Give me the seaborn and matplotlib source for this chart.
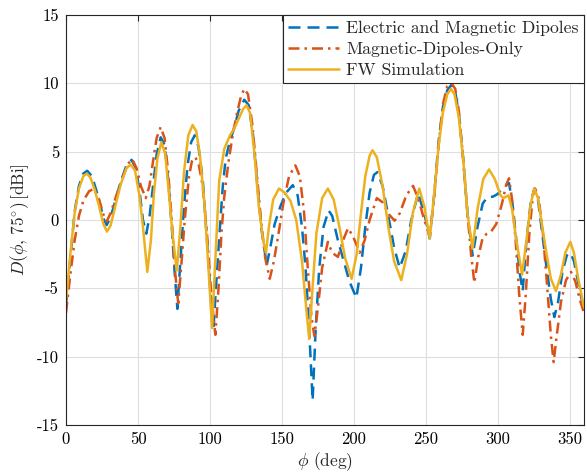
import matplotlib
matplotlib.use("Agg")
import matplotlib.pyplot as plt
import seaborn as sns
import pandas as pd

# ---- data (phi in deg, D in dBi) ----
fw_phi = [0, 3, 6, 9, 12, 14.5, 17, 20, 23, 26, 28.5, 31, 34, 38, 42, 45, 48, 51, 53.5, 56.5,
          59, 61, 63.5, 66.3, 69, 71.5, 74, 77, 79.5, 82, 85, 88, 90.5, 93, 96, 99, 101.5, 103.5,
          106.5, 110, 114, 117, 120, 123, 125.5, 128, 131, 134, 137, 139, 141, 144, 148, 152, 156,
          160, 164, 167, 169, 171, 174, 178, 182, 186, 190, 194, 198.5, 202, 205, 208, 211, 213,
          216, 220, 224, 228, 233, 237, 241, 245.5, 249, 252.8, 256, 259, 262, 265, 267.5, 270,
          273, 276, 279, 282.5, 286, 290, 294, 298, 302, 304, 307.5, 310, 313, 317, 320, 323,
          325.5, 328, 331, 334, 337, 340.5, 344, 347, 350.5, 353, 356, 360]
fw_db = [-6.0, -2.5, 0.5, 2.3, 3.2, 3.4, 3.1, 2.2, 1.0, -0.3, -0.85, -0.4, 0.9, 2.6, 3.8, 4.05, 3.6,
         1.8, -0.5, -3.8, -1.5, 1.8, 4.5, 5.7, 4.8, 2.0, -1.0, -3.7, -0.5, 3.5, 6.2, 6.95, 6.5, 4.8,
         1.5, -3.5, -7.9, -3.5, 2.9, 5.2, 6.2, 6.7, 7.4, 8.1, 8.4, 7.8, 4.8, 1.0, -1.5, -2.4, -0.5,
         1.5, 2.3, 2.0, 1.4, 0.0, -3.0, -6.5, -8.7, -5.5, -1.0, 1.6, 2.3, 1.5, -0.5, -2.8, -4.3,
         -2.5, 0.5, 3.2, 4.7, 5.1, 4.6, 2.5, -0.5, -3.0, -4.4, -2.5, 0.5, 2.3, 1.0, -1.35, 2.0,
         5.5, 7.9, 9.2, 9.6, 9.2, 7.5, 4.5, 0.5, -2.1, 0.8, 3.0, 3.7, 3.0, 1.8, 1.6, 1.8, 0.8,
         -1.5, -4.0, -1.5, 1.2, 2.3, 1.6, -0.5, -2.5, -4.3, -5.2, -4.0, -2.4, -1.6, -2.4, -4.3, -6.4]

em_phi = [0, 3, 6, 9, 12, 14.8, 18, 21, 24, 26.5, 28.3, 31, 34, 38, 42, 45.6, 48.5, 51, 53.5, 55.8,
          58, 60.5, 63, 65.8, 68.5, 71, 73.5, 75.5, 77.4, 79.5, 82, 84.5, 87, 89.5, 92, 95, 98,
          100.5, 102.4, 104.5, 107, 109, 111, 113.5, 117, 120, 123.9, 127, 130, 133, 136, 139.5,
          142, 145, 149, 153, 157.6, 161, 164, 166.5, 169, 171.4, 173.5, 176, 179, 182.5, 185, 189,
          193, 197, 201.8, 205, 208, 211, 214, 216.4, 220, 224, 228, 231.9, 236, 240, 244.7, 249,
          252.8, 256, 259, 262, 265, 267.9, 270.5, 273, 276, 279, 282.6, 286, 289.6, 293, 296.5,
          300, 304, 307.9, 310.5, 313, 315.5, 317.4, 320, 323, 325.5, 328, 331, 334, 337, 339.4,
          342, 345, 348, 350.5, 353, 356, 360]
em_db = [-6.3, -2.8, 0.6, 2.5, 3.4, 3.6, 3.2, 2.2, 1.0, 0.0, -0.37, 0.2, 1.3, 2.8, 4.0, 4.4, 3.8,
         2.2, 0.0, -1.0, 0.2, 2.5, 4.8, 6.05, 5.5, 3.0, -0.5, -3.8, -6.5, -3.0, 1.0, 4.0, 5.7, 6.2,
         5.4, 3.0, -1.5, -5.5, -8.05, -4.5, -0.5, 2.5, 4.5, 5.6, 6.8, 8.0, 8.8, 8.4, 6.2, 2.5, -0.8,
         -3.3, -2.0, -0.3, 1.0, 2.0, 2.55, 1.8, -0.5, -3.5, -8.0, -13.2, -8.0, -3.5, -0.5, 0.7, 0.3,
         -1.5, -3.0, -4.5, -5.7, -3.5, -0.5, 2.0, 3.3, 3.5, 2.5, 0.3, -2.0, -3.5, -2.3, 0.0, 1.95,
         0.5, -1.35, 2.0, 5.8, 8.3, 9.5, 9.9, 9.4, 7.8, 4.5, 0.5, -2.6, -0.5, 1.2, 1.7, 1.7, 1.9,
         2.4, 2.7, 1.0, -1.5, -4.0, -5.2, -1.5, 1.3, 2.3, 1.5, -1.0, -3.5, -5.8, -7.1, -6.0, -3.8,
         -2.6, -2.4, -3.0, -4.6, -6.6]

md_phi = [0, 3, 6, 9, 12, 16, 19.5, 23, 26, 28.3, 31, 35, 39, 43, 46, 49, 52, 55.4, 58, 60.5, 63,
          65.8, 68.5, 71, 73.5, 76, 78, 80, 82.5, 85.5, 87.5, 89.7, 92, 95, 98, 101, 103.8, 106,
          108, 110, 113, 116, 119, 121.5, 123.9, 126.5, 129.5, 132.5, 135.5, 138.5, 141.6, 144.5,
          148, 151, 155, 159.4, 162.5, 165.5, 168, 170.5, 172.6, 175, 178, 182, 185, 189, 192.5,
          196, 199.5, 204.1, 207.5, 211, 216, 220, 224.5, 228.4, 232, 236.5, 241.2, 245, 249,
          252.8, 256, 259, 262, 265, 267.9, 270.5, 273, 276, 279, 281.5, 283.8, 286.5, 289.6,
          292.5, 295.4, 299, 303, 306, 307.9, 310, 312.5, 315, 317.4, 319.5, 322, 324.5, 326,
          328.5, 331.5, 334.5, 337, 338.9, 341, 344, 347.5, 351, 354, 357, 360]
md_db = [-6.8, -4.0, -1.5, 0.3, 1.4, 2.1, 2.3, 1.5, 0.4, -0.1, 0.5, 1.8, 3.0, 4.1, 4.45, 3.8, 2.5,
         1.6, 2.5, 4.3, 6.0, 6.8, 6.0, 3.5, 0.0, -4.0, -6.1, -3.5, 0.0, 3.2, 4.3, 4.6, 4.2, 2.5,
         -1.0, -5.5, -8.4, -5.0, -1.0, 1.7, 4.3, 6.3, 7.9, 9.0, 9.6, 9.2, 7.0, 3.5, 0.0, -2.8, -4.3,
         -3.0, -0.8, 1.2, 3.2, 4.0, 3.2, 0.5, -3.5, -7.0, -8.5, -6.5, -3.5, -1.6, -2.4, -2.7, -1.5,
         -0.6, -1.2, -2.4, -1.5, 0.0, 1.6, 1.3, 0.4, -0.05, 0.5, 1.8, 2.5, 1.5, 0.0, -1.2, 1.8, 5.5,
         8.5, 9.8, 10.0, 9.6, 8.0, 4.5, 0.5, -2.5, -4.6, -2.7, -1.3, -1.0, -0.85, -0.3, 1.2, 2.6,
         3.05, 1.5, -1.5, -5.5, -8.4, -5.5, -1.0, 1.8, 2.3, 1.6, -1.0, -5.0, -8.5, -10.4, -8.5,
         -6.0, -4.4, -3.8, -4.5, -5.8, -6.8]

labels = ["Electric and Magnetic Dipoles", "Magnetic-Dipoles-Only", "FW Simulation"]
x_ticks = [0, 50, 100, 150, 200, 250, 300, 350]
y_ticks = [-15, -10, -5, 0, 5, 10, 15]

# ---- style ----
sns.set_style("white")
plt.rcParams["font.family"] = ["cmr10"]
plt.rcParams["mathtext.fontset"] = "cm"
plt.rcParams["axes.unicode_minus"] = False
plt.rcParams["font.size"] = 12

c_blue = (0.0, 0.447, 0.741)
c_red = (0.850, 0.325, 0.098)
c_yel = (0.929, 0.694, 0.125)
axc = (0.15, 0.15, 0.15)

fig = plt.figure(figsize=(5.87, 4.73), dpi=100)
ax = fig.add_axes([66 / 587, 1 - 425 / 473, 518 / 587, 410 / 473])

df_em = pd.DataFrame({"phi": em_phi, "D": em_db})
df_md = pd.DataFrame({"phi": md_phi, "D": md_db})
df_fw = pd.DataFrame({"phi": fw_phi, "D": fw_db})

lw = 1.8
sns.lineplot(data=df_em, x="phi", y="D", ax=ax, color=c_blue, lw=lw,
             linestyle=(0, (4.8, 2.8)), label=labels[0])
sns.lineplot(data=df_md, x="phi", y="D", ax=ax, color=c_red, lw=lw,
             linestyle=(0, (4.4, 2.0, 1.0, 2.0)), label=labels[1])
sns.lineplot(data=df_fw, x="phi", y="D", ax=ax, color=c_yel, lw=lw,
             linestyle="-", label=labels[2])

ax.set_xlim(0, 360)
ax.set_ylim(-15, 15)
ax.set_xticks(x_ticks)
ax.set_yticks(y_ticks)
ax.set_xticklabels([str(v) for v in x_ticks])
ax.set_yticklabels([str(v) for v in y_ticks])
ax.grid(True, color=(0.87, 0.87, 0.87), lw=0.8)
ax.set_axisbelow(True)
for s in ax.spines.values():
    s.set_visible(True)
    s.set_color(axc)
    s.set_linewidth(0.8)
ax.tick_params(direction="in", length=4, width=0.8, colors=axc, labelcolor="black",
               top=True, right=True, labelsize=12, pad=5)

ax.set_xlabel(r"$\phi$ (deg)", fontsize=12.5, labelpad=2)
ax.set_ylabel(r"$D(\phi,\, 75^{\circ})\,$[dBi]", fontsize=12.5, labelpad=4)

leg = ax.legend(loc="upper right", borderaxespad=0.0, fancybox=False, framealpha=1,
                edgecolor=axc, fontsize=12.7, handlelength=2.9, labelspacing=0.32,
                borderpad=0.3, handletextpad=0.4)
leg.get_frame().set_linewidth(0.8)

fig.savefig("out.png", dpi=100)
